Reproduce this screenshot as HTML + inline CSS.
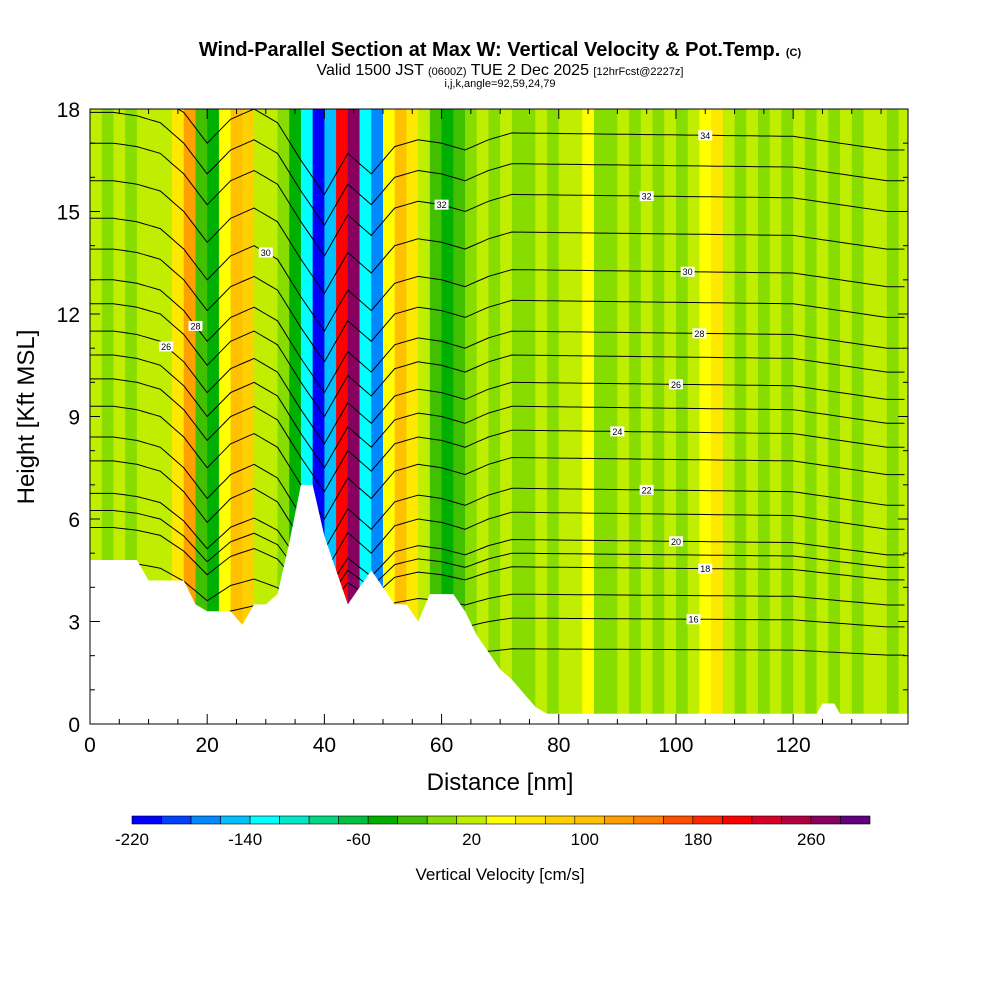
<!DOCTYPE html>
<html><head><meta charset="utf-8"><style>
body{margin:0;background:#fff;width:1000px;height:1000px;overflow:hidden;font-family:"Liberation Sans",sans-serif}
svg text{font-family:"Liberation Sans",sans-serif}
</style></head><body>
<svg id="chart" width="1000" height="1000" viewBox="0 0 1000 1000">
<text x="500" y="56" text-anchor="middle" font-size="20" font-weight="bold">Wind-Parallel Section at Max W: Vertical Velocity &amp; Pot.Temp. <tspan font-size="11">(C)</tspan></text>
<text x="500" y="75" text-anchor="middle" font-size="16">Valid 1500 JST <tspan font-size="11">(0600Z)</tspan> TUE 2 Dec 2025 <tspan font-size="11">[12hrFcst@2227z]</tspan></text>
<text x="500" y="87" text-anchor="middle" font-size="11">i,j,k,angle=92,59,24,79</text>
<g id="plot"></g>
<text x="500" y="790" text-anchor="middle" font-size="24">Distance [nm]</text>
<text transform="translate(34,417) rotate(-90)" text-anchor="middle" font-size="24">Height [Kft MSL]</text>
<g id="cbar"></g>
<text x="500" y="880" text-anchor="middle" font-size="17">Vertical Velocity [cm/s]</text>
</svg>
<script>
// data
const wX = [0,2,4,6,8,10,12,14,16,18,20,22,24,26,28,30,32,34,36,38,40,42,44,46,48,50,52,54,56,58,60,62,64,66,68,70,72,74,76,78,80,82,84,86,88,90,92,94,96,98,100,102,104,106,108,110,112,114,116,118,120,122,124,126,128,130,132,134,136,138];
const wVal = [20,0,20,0,20,10,20,60,120,-20,-40,40,100,80,20,10,0,-40,-120,-200,-140,200,260,-120,-160,40,100,60,20,-20,-40,-20,0,20,0,20,0,0,20,0,20,10,40,0,-10,20,0,10,0,20,0,20,40,50,20,0,10,0,10,0,20,0,10,0,20,0,20,10,0,20];
const terrX = [0,6,8,10,16,18,20,24,26,28,30,32,34,36,38,40,42,44,46,48,50,52,54,56,58,62,64,66,68,70,72,74,76,78,124,125,127,128,140];
const terrH = [4.8,4.8,4.8,4.2,4.2,3.5,3.3,3.3,2.9,3.5,3.5,3.8,5.3,7.0,7.0,5.5,4.5,3.5,4.0,4.5,4.0,3.5,3.5,3.0,3.8,3.8,3.3,2.6,2.1,1.6,1.3,0.9,0.5,0.3,0.3,0.6,0.6,0.3,0.3];
const thetaLevels = [15,16,17,18,19,20,21,22,23,24,25,26,27,28,29,30,31,32,33,34];
const thetaHeights = [2.2,3.1,3.8,4.6,5.0,5.4,6.2,6.9,7.8,8.6,9.3,10.0,10.8,11.5,12.4,13.3,14.4,15.5,16.4,17.3];
const pertX = [0,4,8,12,16,20,24,28,32,36,40,44,48,52,56,60,64,68,72,120,124,128,132,136,140];
const pertV = [1.5,1.5,1.4,1.2,0.6,-0.3,0.4,0.7,0.3,-0.8,-1.8,-0.6,-1.2,-0.4,-0.2,-0.3,-0.5,-0.2,0,-0.1,-0.2,-0.3,-0.4,-0.5,-0.5];
const labelLevels = [34,32,30,28,26,24,22,20,18,16,26,28,30,32];
const labelXs = [105,95,102,104,100,90,95,100,105,103,13,18,30,60];
const cbTicks = [-220,-140,-60,20,100,180,260];
const palette = ["#0000ff","#0040ff","#0088ff","#00c0ff","#00ffff","#00e8c8","#00d880","#00c040","#00b000","#40c000","#88dd00","#c0ee00","#ffff00","#ffe800","#ffd000","#ffc000","#ffa000","#ff8000","#ff5000","#ff2800","#ff0000","#d80028","#b00040","#880060","#600080"];

const X0=90,X1=908,Y0=724,Y1=109;
const sx=v=>X0+v*(818/139.6), sy=v=>Y0-v*(615/18);
const NS="http://www.w3.org/2000/svg";
function mk(t,a,p){const e=document.createElementNS(NS,t);for(const k in a)e.setAttribute(k,a[k]);p.appendChild(e);return e;}
function col(w){let i=Math.floor((w+230)/20)-1;return palette[Math.max(0,Math.min(24,i))];}
function interp(xs,vs,x){if(x<=xs[0])return vs[0];for(let i=1;i<xs.length;i++){if(x<=xs[i]){const t=(x-xs[i-1])/(xs[i]-xs[i-1]);return vs[i-1]+t*(vs[i]-vs[i-1]);}}return vs[vs.length-1];}
const plot=document.getElementById('plot');
const bg=mk('rect',{x:X0,y:Y1,width:X1-X0,height:Y0-Y1,fill:'#c0ee00'},plot);


wX.forEach((x,i)=>{const x2=i<wX.length-1?wX[i+1]:139.6;
 const r=mk('rect',{x:sx(x),y:Y1,width:sx(x2)-sx(x)+0.5,height:Y0-Y1,fill:col(wVal[i])},plot);
 
 });
function thetaH(k,x){const h=thetaHeights[k];const f=Math.min(1,h/6);return h+f*interp(pertX,pertV,x);}
thetaLevels.forEach((lv,k)=>{let pts=[];for(let x=0;x<=139.6;x+=1)pts.push(sx(x).toFixed(1)+','+sy(Math.min(18,thetaH(k,x))).toFixed(1));
 const l=mk('polyline',{points:pts.join(' '),fill:'none',stroke:'#000','stroke-width':1},plot);
 
 });
labelLevels.forEach((lv,i)=>{const k=thetaLevels.indexOf(lv);const x=labelXs[i];const y=sy(thetaH(k,x));
 const r=mk('rect',{x:sx(x)-7,y:y-5,width:14,height:10,fill:'#fff'},plot);
 
 
 const t=mk('text',{x:sx(x),y:y+3.5,'text-anchor':'middle','font-size':9},plot);t.textContent=lv;
 
 });
let tp=[sx(0)+','+Y0];terrX.forEach((x,i)=>tp.push(sx(x)+','+sy(terrH[i])));tp.push(sx(140)+','+Y0);
const terr=mk('polygon',{points:tp.join(' '),fill:'#fff'},plot);


const fr=mk('rect',{x:X0,y:Y1,width:X1-X0,height:Y0-Y1,fill:'none',stroke:'#000','stroke-width':1},plot);


for(let v=0;v<=139;v+=5){const big=v%20==0;
 mk('line',{x1:sx(v),x2:sx(v),y1:Y0,y2:Y0-(big?10:5),stroke:'#000'},plot);
 mk('line',{x1:sx(v),x2:sx(v),y1:Y1,y2:Y1+(big?10:5),stroke:'#000'},plot);
 if(big){const t=mk('text',{x:sx(v),y:752,'text-anchor':'middle','font-size':21},plot);t.textContent=v;
 
 }}
for(let v=0;v<=18;v+=1){const big=v%3==0;
 mk('line',{x1:X0,x2:X0+(big?10:5),y1:sy(v),y2:sy(v),stroke:'#000'},plot);
 mk('line',{x1:X1,x2:X1-(big?10:5),y1:sy(v),y2:sy(v),stroke:'#000'},plot);
 if(big){const t=mk('text',{x:80,y:sy(v)+8,'text-anchor':'end','font-size':21},plot);t.textContent=v;
 
 }}
const cb=document.getElementById('cbar');const bw=(870-132)/25;
palette.forEach((c,i)=>{const r=mk('rect',{x:132+i*bw,y:816,width:bw,height:8,fill:c,stroke:'#000','stroke-width':0.6},cb);
 
 });
cbTicks.forEach(v=>{const t=mk('text',{x:132+(v+220)/80*113.2,y:845,'text-anchor':'middle','font-size':17},cb);t.textContent=v;
 
 });
</script>
</body></html>
